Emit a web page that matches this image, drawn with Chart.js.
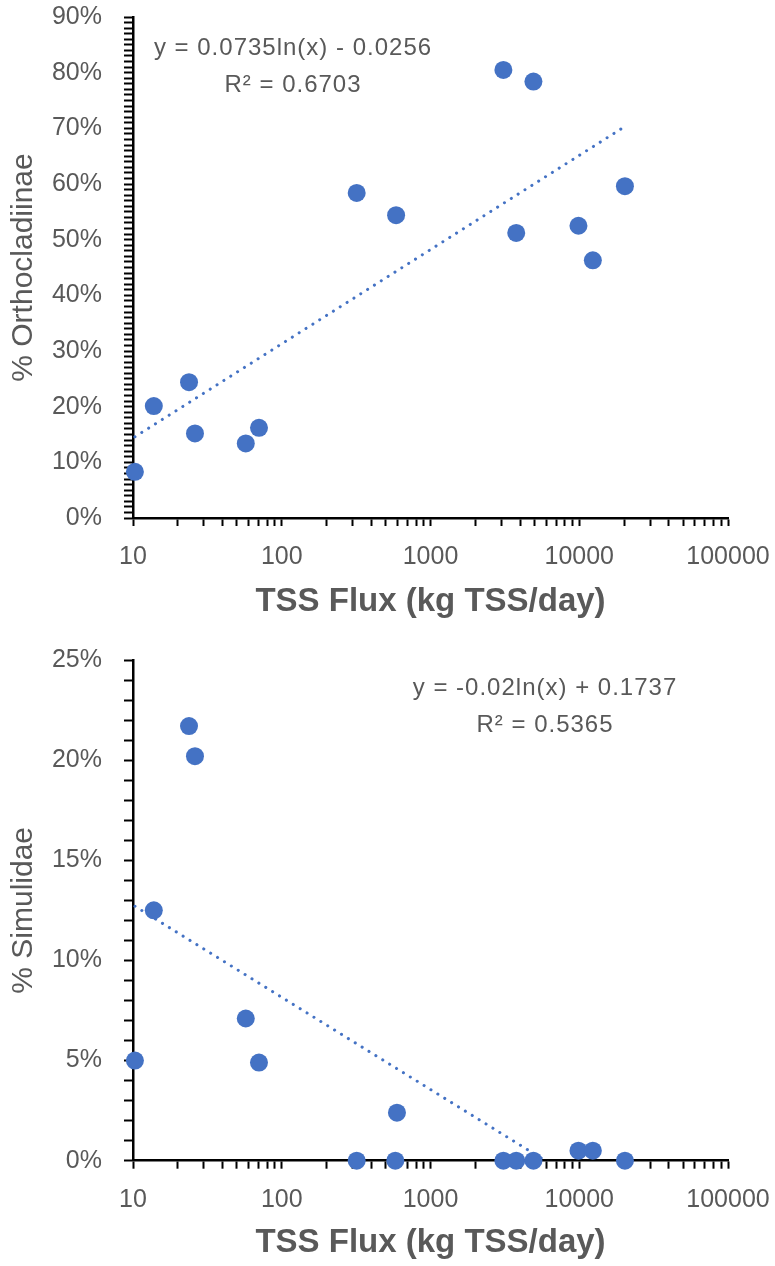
<!DOCTYPE html>
<html>
<head>
<meta charset="utf-8">
<script src="https://cdn.jsdelivr.net/npm/chart.js@4/dist/chart.umd.min.js"></script>
<style>
  html, body { margin: 0; padding: 0; background: #fff; }
  body { width: 775px; height: 1266px; position: relative; overflow: hidden; }
  .box { position: absolute; left: 0; width: 775px; }
  #box1 { top: 0; height: 640px; }
  #box2 { top: 630px; height: 636px; }
</style>
</head>
<body>
<div class="box" id="box1"><canvas id="orthoChart" width="775" height="640"></canvas></div>
<div class="box" id="box2"><canvas id="simChart" width="775" height="636"></canvas></div>
<script>
// TSS flux per site (kg TSS/day) and percent composition of each group
const orthoFlux = [10.3, 13.8, 23.8, 26.1, 57.3, 70.3, 319, 587, 3090, 3770, 4920, 9880, 12340, 20280];
const orthoPct  = [0.083, 0.201, 0.244, 0.152, 0.134, 0.162, 0.584, 0.544, 0.805, 0.512, 0.784, 0.525, 0.463, 0.596];

const simFlux = [10.3, 13.8, 23.8, 26.1, 57.3, 70.3, 319, 595, 580, 3090, 3770, 4920, 9880, 12340, 20280];
const simPct  = [0.050, 0.125, 0.217, 0.202, 0.071, 0.049, 0.000, 0.024, 0.000, 0.000, 0.000, 0.000, 0.005, 0.005, 0.000];

// Logarithmic trendline coefficients: y = a*ln(x) + b
const orthoFit = { a: 0.0735, b: -0.0256, r2: '0.6703' };
const simFit   = { a: -0.02,  b: 0.1737,  r2: '0.5365' };

// Axis ranges and tick labels
const fluxDecades = [10, 100, 1000, 10000, 100000];
const orthoYMax = 0.9, orthoYMajor = 0.1;
const simYMax = 0.25, simYMajor = 0.05;

const BLUE = '#4472C4';
const TEXT = '#595959';
const FONT = "'Liberation Sans', Arial, sans-serif";

function fitLine(fit, xs) {
  const lo = Math.min(...xs), hi = Math.max(...xs);
  return [lo, hi].map(x => ({ x, y: fit.a * Math.log(x) + fit.b }));
}

function equationText(fit) {
  const sign = fit.b < 0 ? ' - ' : ' + ';
  return 'y = ' + String(fit.a) + 'ln(x)' + sign + Math.abs(fit.b).toFixed(4);
}

// Draws the trendline equation and R² inside the plot area
const equationPlugin = {
  id: 'equation',
  afterDatasetsDraw(chart, args, opts) {
    const ctx = chart.ctx;
    ctx.save();
    ctx.fillStyle = TEXT;
    ctx.font = '24px ' + FONT;
    ctx.letterSpacing = '1px';
    ctx.textAlign = 'center';
    ctx.textBaseline = 'middle';
    ctx.fillText(opts.line1, opts.x, opts.y1);
    ctx.fillText(opts.line2, opts.x, opts.y2);
    ctx.restore();
  }
};

function percentTicks(max) {
  const out = [];
  const n = Math.round(max * 100);
  for (let i = 0; i <= n; i++) out.push({ value: i / 100 });
  return out;
}

function logTicks() {
  const out = [];
  for (let d = 0; d < fluxDecades.length - 1; d++) {
    for (let m = 1; m <= 9; m++) out.push({ value: m * fluxDecades[d] });
  }
  out.push({ value: fluxDecades[fluxDecades.length - 1] });
  return out;
}

function makeChart(id, cfg) {
  const H = cfg.height;
  return new Chart(document.getElementById(id), {
    type: 'scatter',
    data: {
      datasets: [
        {
          label: 'sites',
          data: cfg.xs.map((x, i) => ({ x, y: cfg.ys[i] })),
          backgroundColor: BLUE,
          borderColor: BLUE,
          pointRadius: 9,
          pointBorderWidth: 0,
          clip: false,
          order: 0
        },
        {
          label: 'trend',
          data: fitLine(cfg.fit, cfg.xs),
          showLine: true,
          borderColor: BLUE,
          borderWidth: 3,
          borderDash: [0.1, 8],
          borderCapStyle: 'round',
          pointRadius: 0,
          clip: 0,
          order: 1
        }
      ]
    },
    options: {
      responsive: false,
      animation: false,
      layout: { padding: { top: cfg.top, right: 47, bottom: 0, left: 0 } },
      plugins: {
        legend: { display: false },
        tooltip: { enabled: false },
        equation: {
          line1: equationText(cfg.fit),
          line2: 'R\u00B2 = ' + cfg.fit.r2,
          x: cfg.eqX, y1: cfg.eqY1, y2: cfg.eqY2
        }
      },
      scales: {
        x: {
          type: 'logarithmic',
          min: fluxDecades[0],
          max: fluxDecades[fluxDecades.length - 1],
          afterFit: s => {
            s.height = H - cfg.bottom;
            s.paddingLeft = 0; s.paddingRight = 0;
          },
          afterBuildTicks: s => { s.ticks = logTicks(); },
          border: { display: true, color: '#000', width: 2.5 },
          grid: { display: true, drawOnChartArea: false, drawTicks: true, tickLength: 8, tickColor: '#000', tickWidth: 2 },
          ticks: {
            autoSkip: false,
            maxRotation: 0,
            padding: 16,
            color: TEXT,
            font: { family: FONT, size: 25 },
            callback: v => (fluxDecades.includes(v) ? String(v) : '')
          },
          title: {
            display: true,
            text: 'TSS Flux (kg TSS/day)',
            color: TEXT,
            font: { family: FONT, size: 33, weight: 'bold' },
            padding: { top: 0, bottom: cfg.titlePad }
          }
        },
        y: {
          min: 0,
          max: cfg.yMax,
          afterFit: s => {
            s.width = 133;
            s.paddingTop = 0; s.paddingBottom = 0;
          },
          afterBuildTicks: s => { s.ticks = percentTicks(cfg.yMax); },
          border: { display: true, color: '#000', width: 2.5 },
          grid: { display: true, drawOnChartArea: false, drawTicks: true, tickLength: 9, tickColor: '#000', tickWidth: 2 },
          ticks: {
            autoSkip: false,
            padding: 22,
            color: TEXT,
            font: { family: FONT, size: 25 },
            callback: v => {
              const pct = Math.round(v * 100);
              return pct % Math.round(cfg.yMajor * 100) === 0 ? pct + '%' : '';
            }
          },
          title: {
            display: true,
            text: cfg.yTitle,
            color: TEXT,
            font: { family: FONT, size: 30 },
            padding: { top: 6, bottom: 0 }
          }
        }
      }
    },
    plugins: [equationPlugin]
  });
}

makeChart('orthoChart', {
  height: 640, top: 17, bottom: 518,
  xs: orthoFlux, ys: orthoPct, fit: orthoFit,
  yMax: orthoYMax, yMajor: orthoYMajor,
  yTitle: '% Orthocladiinae', titlePad: 18,
  eqX: 293, eqY1: 48, eqY2: 85
});

makeChart('simChart', {
  height: 636, top: 30, bottom: 530.7,
  xs: simFlux, ys: simPct, fit: simFit,
  yMax: simYMax, yMajor: simYMajor,
  yTitle: '% Simulidae', titlePad: 3,
  eqX: 545, eqY1: 58, eqY2: 95
});
</script>
</body>
</html>
